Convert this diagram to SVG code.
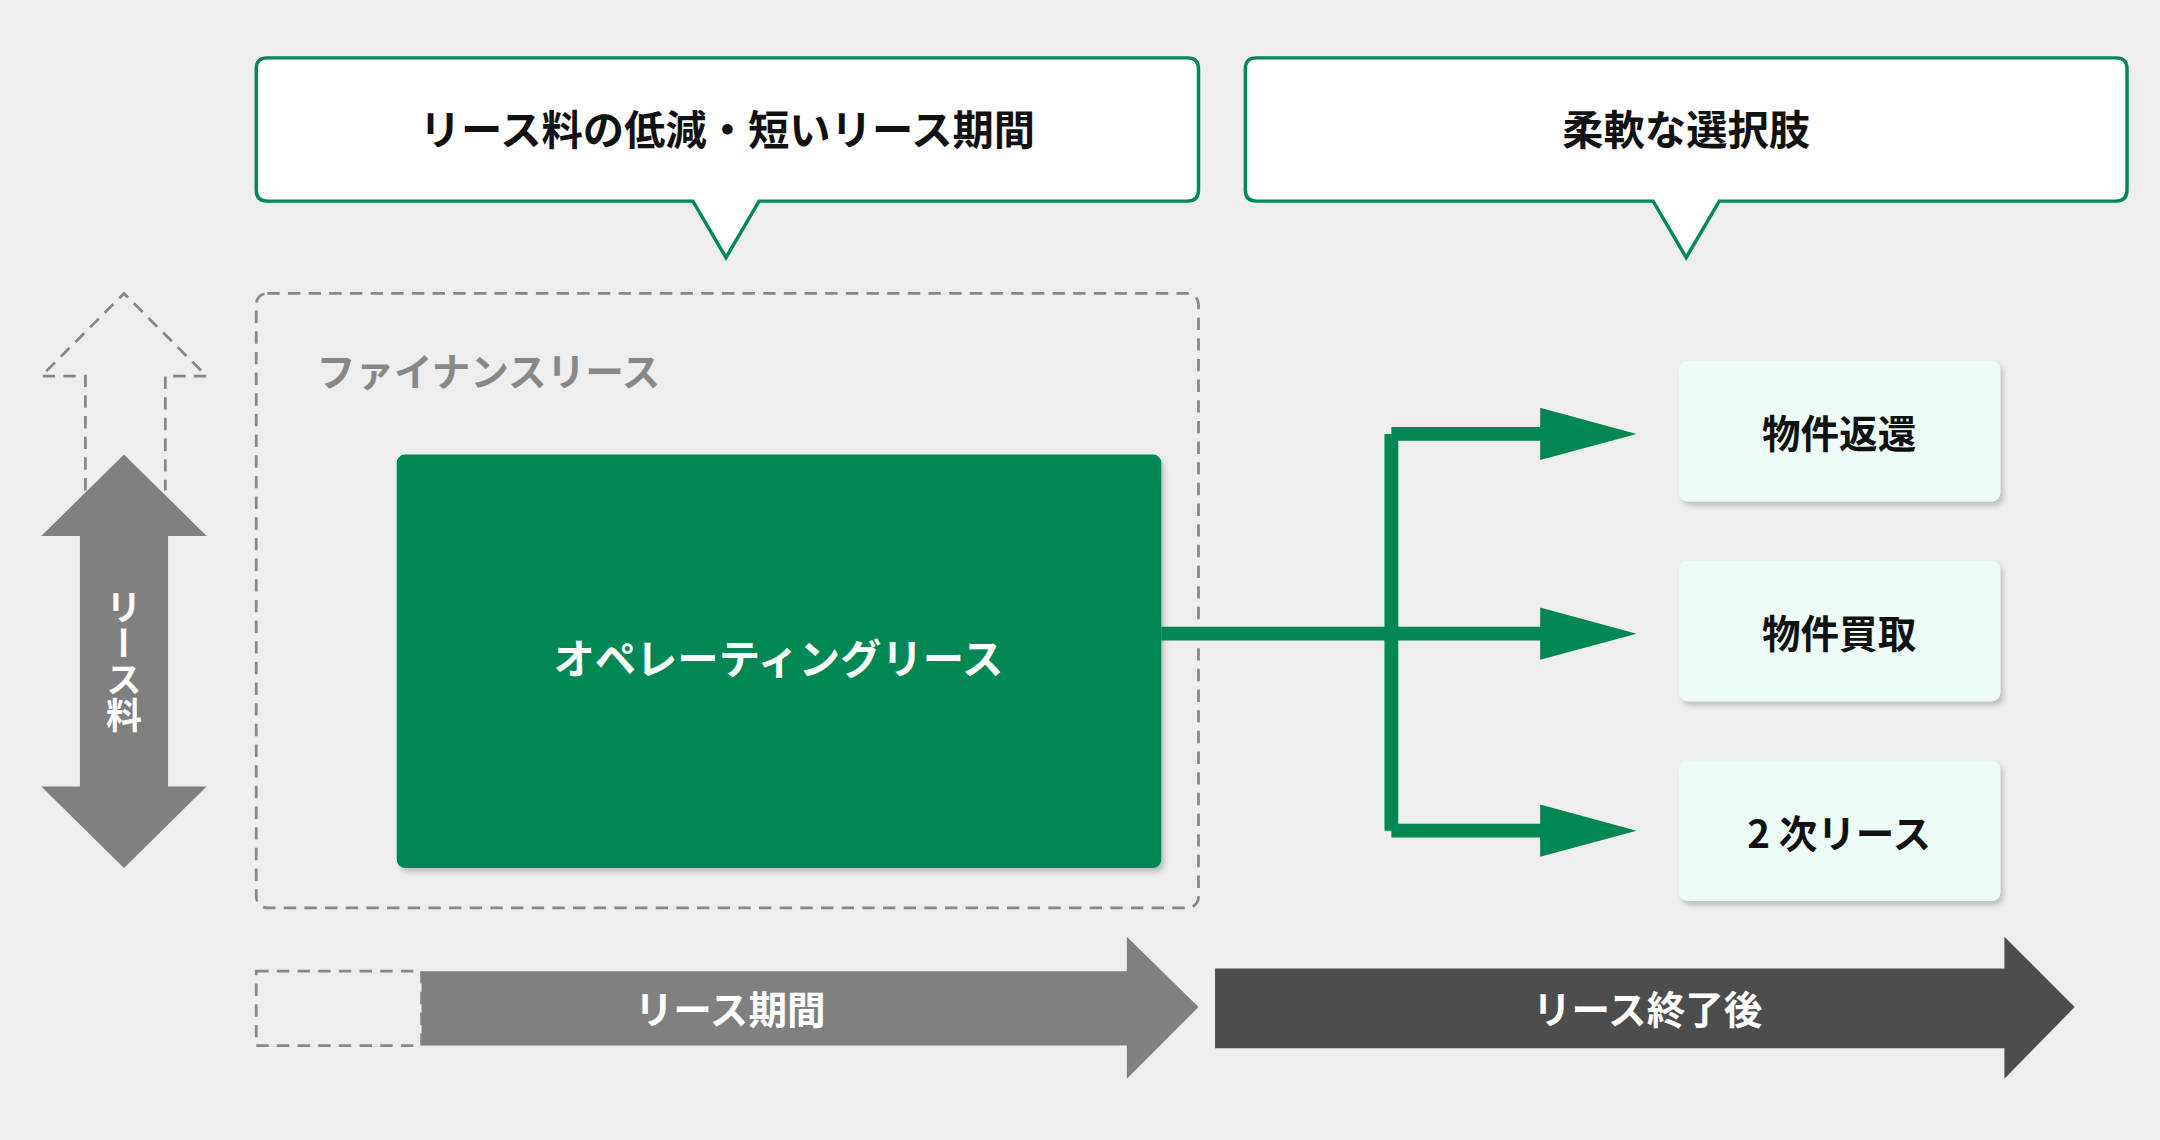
<svg xmlns="http://www.w3.org/2000/svg" width="2160" height="1140" viewBox="0 0 2160 1140">
<defs>
<style>
text{font-family:"Noto Sans CJK JP","Noto Sans",sans-serif;font-weight:700;text-anchor:middle;dominant-baseline:central}
.call{fill:#fff;stroke:#00885a;stroke-width:2.5}
.opt{fill:#eefcf7}
.g{stroke:#008753;stroke-width:10;fill:none}
</style>
<filter id="sh" x="-10%" y="-10%" width="130%" height="130%"><feDropShadow dx="2" dy="3" stdDeviation="2" flood-color="#000" flood-opacity="0.2"/></filter>
</defs>
<rect width="2160" height="1140" fill="#eeeeee"/>
<g transform="scale(1.3776)">
<g id="callout1">
<path class="call" d="M194,42 H862 Q870,42 870,50 V138 Q870,146 862,146 H551 L527,187 L503,146 H194 Q186,146 186,138 V50 Q186,42 194,42 Z"/>
<text x="528" y="92" font-size="30" fill="#111">リース料の低減・短いリース期間</text>
</g>
<g id="callout2">
<path class="call" d="M912,42 H1536 Q1544,42 1544,50 V138 Q1544,146 1536,146 H1248 L1224,187 L1200,146 H912 Q904,146 904,138 V50 Q904,42 912,42 Z"/>
<text x="1224" y="92" font-size="30" fill="#111">柔軟な選択肢</text>
</g>
<g id="finance">
<rect x="186" y="213" width="684" height="446" rx="8" fill="none" stroke="#888" stroke-width="2" stroke-dasharray="9,6"/>
<text x="230" y="268" font-size="28" fill="#888" style="text-anchor:start">ファイナンスリース</text>
</g>
<g id="operating">
<rect x="288" y="330" width="555" height="300" rx="6" fill="#008753" filter="url(#sh)"/>
<text x="565" y="476" font-size="30" fill="#fff">オペレーティングリース</text>
</g>
<g id="lease-fee">
<path d="M62,356 V273 H30 L90,213 L150,273 H120 V356" fill="none" stroke="#888" stroke-width="2" stroke-dasharray="9,6"/>
<path d="M90,330 L150,389 H122 V571 H150 L90,630 L30,571 H58 V389 H30 Z" fill="#808080"/>
<text x="90" y="480" font-size="26" fill="#fff" style="writing-mode:vertical-rl" >リース料</text>
</g>
<g id="connectors">
<path class="g" d="M843,460 H1120 M1010,603 V315 M1010,315 H1120 M1010,603 H1120"/>
<path d="M1118,296 L1188,315 L1118,334 Z M1118,441 L1188,460 L1118,479 Z M1118,584 L1188,603 L1118,622 Z" fill="#008753"/>
</g>
<g id="opt1"><rect class="opt" x="1219" y="262" width="233" height="102" rx="6" filter="url(#sh)"/><text x="1335" y="313" font-size="28" fill="#111">物件返還</text></g>
<g id="opt2"><rect class="opt" x="1219" y="407" width="233" height="102" rx="6" filter="url(#sh)"/><text x="1335" y="458" font-size="28" fill="#111">物件買取</text></g>
<g id="opt3"><rect class="opt" x="1219" y="552" width="233" height="102" rx="6" filter="url(#sh)"/><text x="1335" y="603" font-size="28" fill="#111">2 次リース</text></g>
<g id="period">
<rect x="186" y="705" width="120" height="54" fill="none" stroke="#888" stroke-width="2" stroke-dasharray="9,6"/>
<path d="M306,705 H818 V680 L870,731 L818,783 V759 H306 Z" fill="#808080"/>
<text x="530" y="731" font-size="28" fill="#fff">リース期間</text>
</g>
<g id="after">
<path d="M882,703 H1455 V680 L1506,731 L1455,783 V761 H882 Z" fill="#4d4d4d"/>
<text x="1196" y="731" font-size="28" fill="#fff">リース終了後</text>
</g>
</g>
</svg>
